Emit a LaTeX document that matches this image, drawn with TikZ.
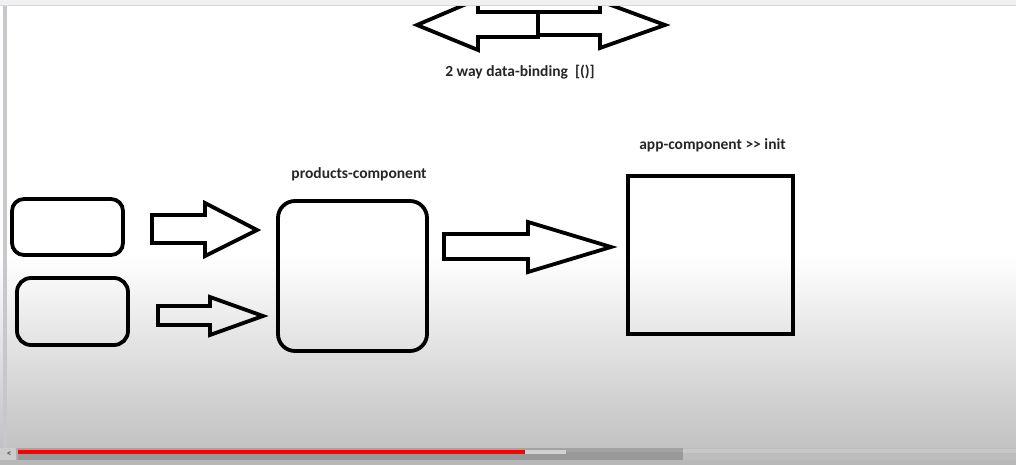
\documentclass[tikz,border=0pt]{standalone}
\usepackage{fontspec}
\setmainfont{Carlito}
\begin{document}
\begin{tikzpicture}[x=1pt,y=-1pt,
  shapeline/.style={draw=black,line width=3.8pt,line join=miter,fill=none},
  lbl/.style={font=\fontsize{15.5}{17}\selectfont\bfseries,text=black!85,inner sep=0pt}]
\useasboundingbox (0,0) rectangle (1016,465);
\begin{scope}
\clip (0,0) rectangle (1016,465);
% background
\fill[white] (0,0) rectangle (1016,465);
\shade[top color=white,bottom color=black!24] (0,255) rectangle (1016,448);
\fill[black!25] (0,448) rectangle (1016,465);
% left edge line
\fill[blue!10!black!22] (3,5) rectangle (7,448);

% top double arrow
\draw[shapeline] (417,25) -- (478,-1) -- (478,12) -- (600,12) -- (600,1) -- (665,25)
  -- (600,48) -- (600,35) -- (538,35) -- (538,37) -- (478,37) -- (478,50) -- cycle;
\draw[shapeline] (538,12) -- (538,37);
% top toolbar strip
\fill[black!6] (0,0) rectangle (1016,5);
\draw[black!15,line width=0.6pt] (0,5) -- (1016,5);
\node[lbl] (dbl) at (520,72) {2 way data-binding\ \ [()]};

% left boxes
\node[shapeline,rounded corners=12pt,minimum width=111pt,minimum height=56pt,inner sep=0pt] (in1) at (67.5,227) {};
\node[shapeline,rounded corners=14pt,minimum width=111pt,minimum height=67pt,inner sep=0pt] (in2) at (72.5,311.5) {};

% small arrows
\draw[shapeline] (152,215) -- (205,215) -- (205,203) -- (257,230) -- (205,256) -- (205,243) -- (152,243) -- cycle;
\draw[shapeline] (158,306) -- (210,306) -- (210,297) -- (263,316) -- (210,335) -- (210,325) -- (158,325) -- cycle;

% products component
\node[shapeline,rounded corners=17pt,minimum width=149pt,minimum height=150pt,inner sep=0pt] (prod) at (352.5,276) {};
\node[lbl] (prodlbl) at (359,174) {products-component};

% big arrow
\draw[shapeline] (444,234) -- (528,234) -- (528,222) -- (611,247) -- (528,272) -- (528,259) -- (444,259) -- cycle;

% app component
\node[shapeline,minimum width=165pt,minimum height=158pt,inner sep=0pt] (app) at (710.5,255) {};
\node[lbl] (applbl) at (712.5,145) {app-component >{}> init};

% progress / scroll bar
\fill[black!32] (0,448) rectangle (1016,460);
\fill[black!26] (683,448) rectangle (1016,460);
\fill[black!22] (683,449) rectangle (1016,453);
\fill[black!40] (18,448) rectangle (683,460);
\fill[black!36] (18,448) rectangle (683,452);
\fill[black!28] (0,460) rectangle (1016,465);
\fill[black!20] (0,448) rectangle (16,460);
\node[font=\fontsize{9}{9}\selectfont\bfseries,text=black!70,inner sep=0pt] (lt) at (9,454) {<};
\fill[black!18] (525,450) rectangle (566,454);
\fill[red] (18,450) rectangle (525,454);
\end{scope}
\end{tikzpicture}
\end{document}
